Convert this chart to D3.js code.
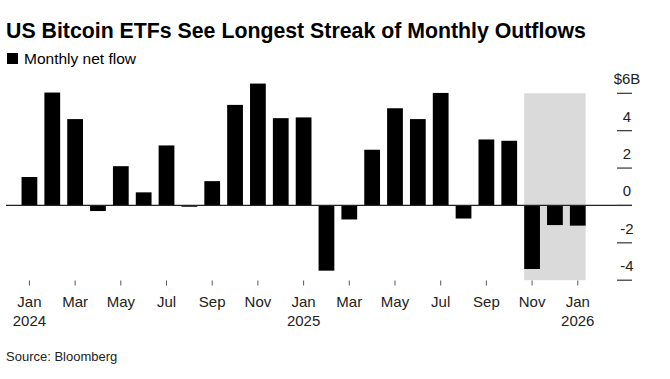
<!DOCTYPE html>
<html>
<head>
<meta charset="utf-8">
<script src="https://cdn.jsdelivr.net/npm/d3@7"></script>
<style>
  html, body { margin: 0; padding: 0; background: #fff; }
  svg { display: block; font-family: "Liberation Sans", Arial, Helvetica, sans-serif; }
</style>
</head>
<body>
<svg id="chart" width="670" height="379"></svg>
<script>
// ---- Data ----
const months = ["2024-01","2024-02","2024-03","2024-04","2024-05","2024-06","2024-07","2024-08","2024-09","2024-10","2024-11","2024-12",
                "2025-01","2025-02","2025-03","2025-04","2025-05","2025-06","2025-07","2025-08","2025-09","2025-10","2025-11","2025-12",
                "2026-01"];
const netFlow = [1.52, 6.04, 4.62, -0.30, 2.10, 0.70, 3.21, -0.07, 1.30, 5.38, 6.52, 4.67,
                 4.71, -3.49, -0.75, 2.98, 5.20, 4.62, 6.02, -0.70, 3.53, 3.46, -3.40, -1.05,
                 -1.08];
const yTicks = [-4, -2, 0, 2, 4, 6];
const yTickLabels = ["-4", "-2", "0", "2", "4", "$6B"];
const xTickMonths = ["2024-01","2024-03","2024-05","2024-07","2024-09","2024-11","2025-01","2025-03","2025-05","2025-07","2025-09","2025-11","2026-01"];
const xTickLabels = ["Jan","Mar","May","Jul","Sep","Nov","Jan","Mar","May","Jul","Sep","Nov","Jan"];
const yearLabels = {"2024-01": "2024", "2025-01": "2025", "2026-01": "2026"};
const shadedMonths = ["2025-11", "2026-01"];

const title = "US Bitcoin ETFs See Longest Streak of Monthly Outflows";
const legendLabel = "Monthly net flow";
const source = "Source: Bloomberg";

// ---- Scales ----
const svg = d3.select("#chart");
const x = d3.scaleBand().domain(months).range([18, 589.2]).paddingInner(0.31).paddingOuter(0.155);
const y = d3.scaleLinear().domain([-4, 6]).range([280.2, 93.3]);

// Title
svg.append("text").attr("x", 6).attr("y", 37.5)
  .attr("font-size", 21.3).attr("font-weight", "bold").attr("fill", "#000")
  .text(title);

// Legend
svg.append("rect").attr("x", 7).attr("y", 53).attr("width", 11).attr("height", 11).attr("fill", "#000");
svg.append("text").attr("x", 24).attr("y", 64).attr("font-size", 15.5).attr("fill", "#000").text(legendLabel);

// Shaded region
svg.append("rect")
  .attr("x", x(shadedMonths[0]))
  .attr("y", y(6))
  .attr("width", x(shadedMonths[1]) + x.bandwidth() - x(shadedMonths[0]))
  .attr("height", y(-4) - y(6))
  .attr("fill", "#dadada");

// Bars
svg.append("g").selectAll("rect").data(months).join("rect")
  .attr("x", d => x(d))
  .attr("width", x.bandwidth())
  .attr("y", (d, i) => y(Math.max(0, netFlow[i])))
  .attr("height", (d, i) => Math.abs(y(netFlow[i]) - y(0)))
  .attr("fill", "#000");

// Zero line
svg.append("line").attr("x1", 6).attr("x2", 632).attr("y1", y(0)).attr("y2", y(0))
  .attr("stroke", "#222").attr("stroke-width", 1.2);

// Y axis (right side, dashes with labels above)
const yAxis = svg.append("g");
yAxis.selectAll("line").data(yTicks).join("line")
  .attr("x1", 617).attr("x2", 632)
  .attr("y1", d => y(d)).attr("y2", d => y(d))
  .attr("stroke", "#333").attr("stroke-width", 1.2);
yAxis.selectAll("text").data(yTicks).join("text")
  .attr("x", 627).attr("y", d => y(d) - 9)
  .attr("text-anchor", "middle").attr("font-size", 15).attr("fill", "#222")
  .text((d, i) => yTickLabels[i]);

// X axis
const xAxis = svg.append("g");
const cx = m => x(m) + x.bandwidth() / 2;
xAxis.selectAll("line").data(xTickMonths).join("line")
  .attr("x1", cx).attr("x2", cx).attr("y1", 280.5).attr("y2", 285.5)
  .attr("stroke", "#555").attr("stroke-width", 1);
xAxis.selectAll("text.m").data(xTickMonths).join("text").attr("class", "m")
  .attr("x", cx).attr("y", 306.5)
  .attr("text-anchor", "middle").attr("font-size", 15).attr("fill", "#222")
  .text((d, i) => xTickLabels[i]);
xAxis.selectAll("text.yr").data(xTickMonths.filter(m => yearLabels[m])).join("text").attr("class", "yr")
  .attr("x", cx).attr("y", 325.5)
  .attr("text-anchor", "middle").attr("font-size", 15).attr("fill", "#222")
  .text(d => yearLabels[d]);

// Source
svg.append("text").attr("x", 6).attr("y", 361).attr("font-size", 13).attr("fill", "#222").text(source);
</script>
</body>
</html>
